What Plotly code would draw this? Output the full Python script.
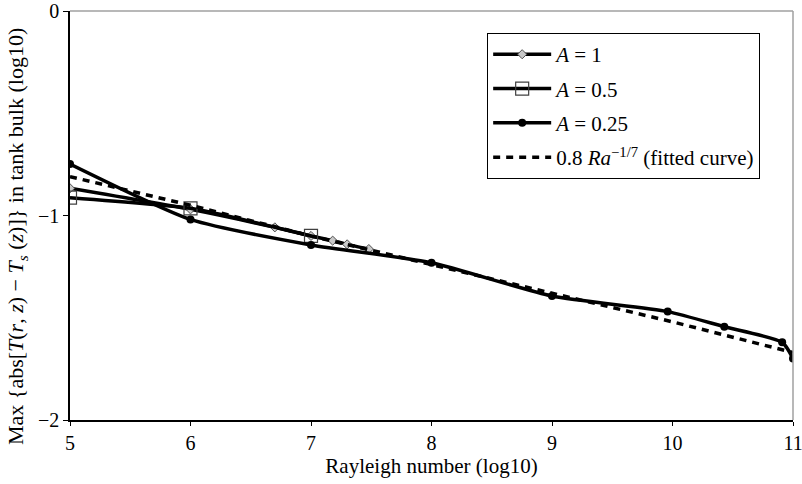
import plotly.graph_objects as go

# A = 1 (grey diamonds)
x_a1 = [5.0, 6.0, 6.70, 7.0, 7.18, 7.30, 7.48]
y_a1 = [-0.867, -0.970, -1.058, -1.100, -1.123, -1.141, -1.164]

# A = 0.5 (open squares)
x_a05 = [5.0, 6.0, 7.0]
y_a05 = [-0.913, -0.965, -1.100]

# A = 0.25 (filled circles)
x_a025 = [5.0, 6.0, 7.0, 8.0, 9.0, 9.96, 10.43, 10.91, 11.0]
y_a025 = [-0.748, -1.019, -1.144, -1.231, -1.394, -1.470, -1.544, -1.620, -1.699]

# fitted curve 0.8 Ra^(-1/7)
x_fit = [5, 6, 7, 8, 9, 10, 11]
y_fit = [-0.81, -0.95, -1.10, -1.24, -1.38, -1.52, -1.67]

x_ticks = [5, 6, 7, 8, 9, 10, 11]
y_ticks = [0, -1, -2]
y_tick_text = ["0", "\u22121", "\u22122"]

FONT = "Liberation Serif"

fig = go.Figure()
fig.add_trace(go.Scatter(
    x=x_a1, y=y_a1, mode="lines+markers", name="<i>A</i> = 1", legendgroup="a",
    line=dict(color="black", width=3.5, shape="spline", smoothing=0.5),
    marker=dict(symbol="diamond", size=7, color="#c8c8c8", line=dict(color="#505050", width=1)),
))
fig.add_trace(go.Scatter(
    x=x_a05, y=y_a05, mode="lines+markers", name="<i>A</i> = 0.5", legendgroup="b",
    line=dict(color="black", width=3.5, shape="spline", smoothing=0.5),
    marker=dict(symbol="square-open", size=13, color="#404040", line=dict(width=1.2)),
))
fig.add_trace(go.Scatter(
    x=x_a025, y=y_a025, mode="lines+markers", name="<i>A</i> = 0.25", legendgroup="c",
    line=dict(color="black", width=3.5, shape="spline", smoothing=0.6),
    marker=dict(symbol="circle", size=8, color="black"),
))
fig.add_trace(go.Scatter(
    x=x_fit, y=y_fit, mode="lines", name="0.8 <i>Ra</i><sup>\u22121/7</sup> (fitted curve)",
    legendgroup="d",
    line=dict(color="black", width=3.5, dash="7px,6px"),
))

fig.update_layout(
    width=802, height=484,
    margin=dict(l=70, r=9, t=11, b=64, autoexpand=False),
    paper_bgcolor="white", plot_bgcolor="white",
    font=dict(family=FONT, size=20, color="black"),
    showlegend=True,
    legend=dict(
        x=0.577, y=0.946, xanchor="left", yanchor="top",
        bordercolor="black", borderwidth=1, bgcolor="white",
        font=dict(family=FONT, size=21), tracegroupgap=4,
        itemwidth=58,
    ),
    xaxis=dict(
        range=[5, 11], tickvals=x_ticks, showgrid=False, zeroline=False,
        showline=True, linecolor="black", linewidth=1.5,
        ticks="outside", ticklen=4, tickcolor="black", automargin=False,
        ticklabeloverflow="allow",
        tickfont=dict(family=FONT, size=20),
        title=dict(text="Rayleigh number (log10)", font=dict(family=FONT, size=21), standoff=6),
    ),
    yaxis=dict(
        range=[-2, 0], tickvals=y_ticks, ticktext=y_tick_text, showgrid=False, zeroline=False,
        showline=True, linecolor="black", linewidth=1.5,
        ticks="outside", ticklen=5, tickcolor="black", automargin=False,
        ticklabeloverflow="allow",
        tickfont=dict(family=FONT, size=20),
    ),
    annotations=[
        dict(
            text="Max {abs[<i>T</i>(<i>r</i>, <i>z</i>) \u2212 <i>T</i><sub><i>s</i></sub> (<i>z</i>)]} in tank bulk (log10)",
            xref="paper", yref="paper", x=-53 / 723, y=(420 - 237) / 409,
            xanchor="center", yanchor="middle", textangle=-90, showarrow=False,
            font=dict(family=FONT, size=22),
        )
    ],
    shapes=[
        dict(type="line", xref="paper", yref="paper", x0=0, x1=1, y0=1, y1=1,
             line=dict(color="#a0a0a0", width=1.5)),
        dict(type="line", xref="paper", yref="paper", x0=1, x1=1, y0=0, y1=1,
             line=dict(color="#a0a0a0", width=1.5)),
    ],
)

fig.write_html("out.html", config={"displayModeBar": False},
               post_script="document.body.style.margin='0';")
